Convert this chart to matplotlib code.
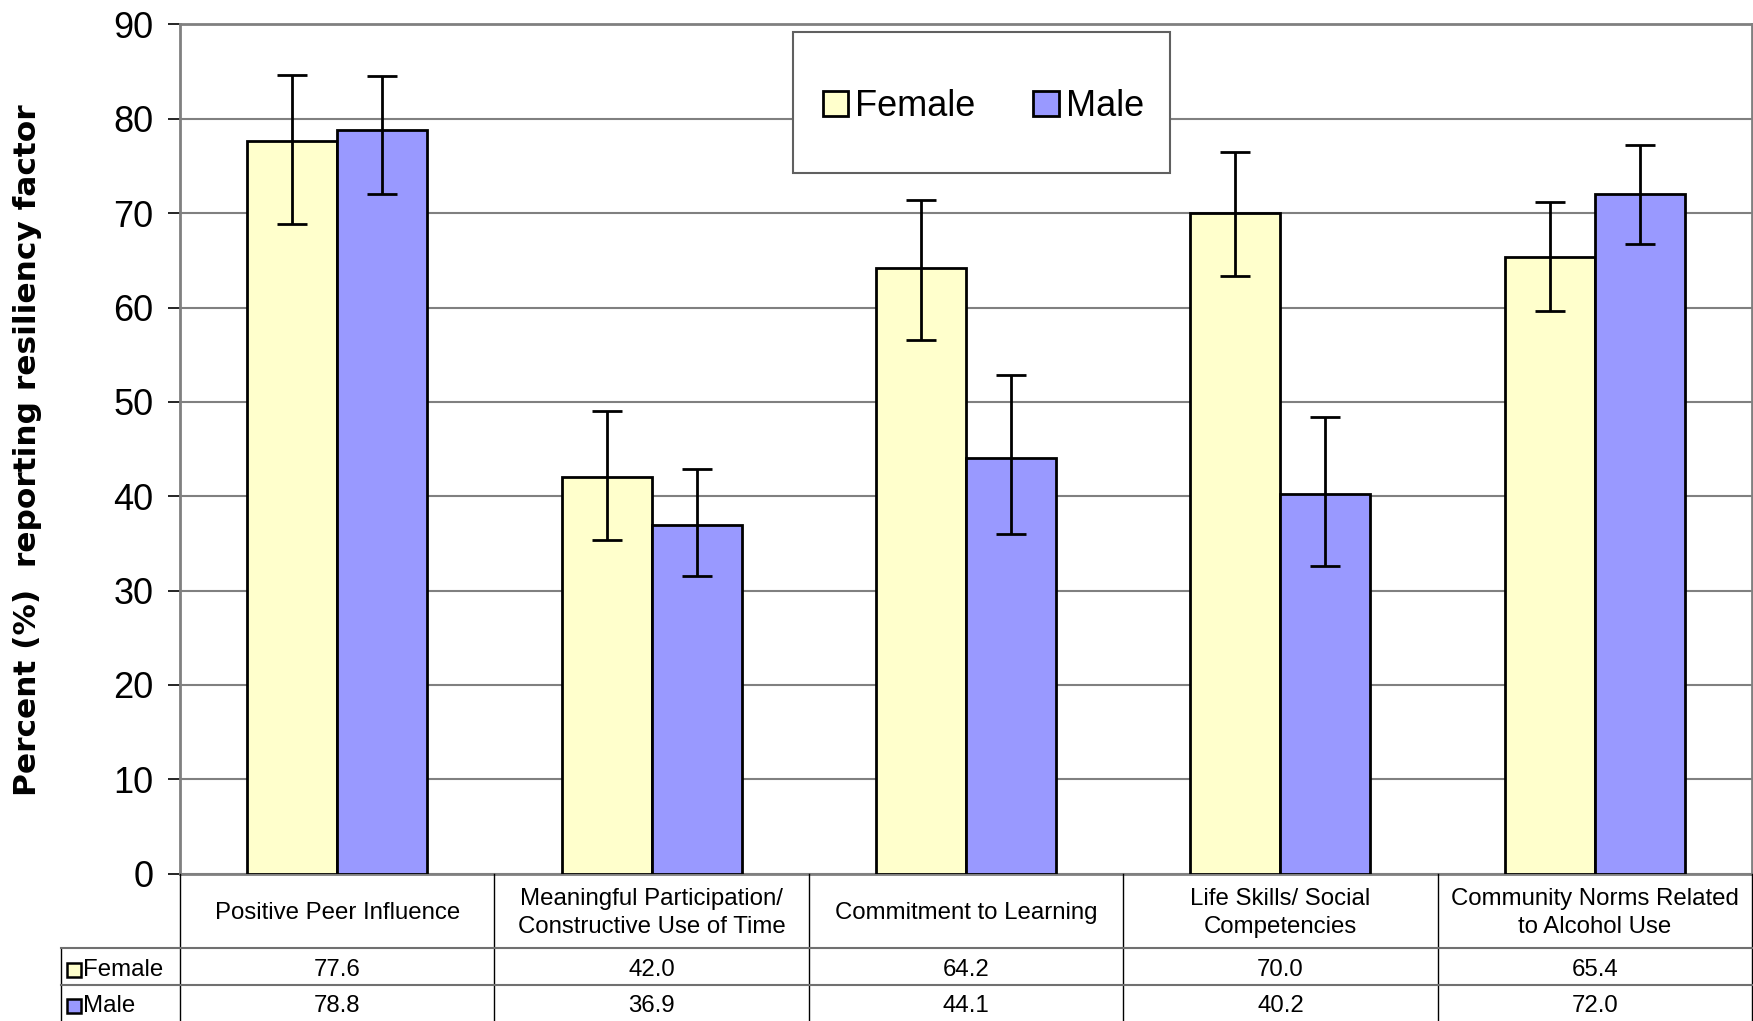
import numpy as np
import matplotlib
matplotlib.use('Agg')
import matplotlib.pyplot as plt
from matplotlib.patches import Rectangle
from matplotlib.lines import Line2D
import matplotlib.transforms as mtransforms

plt.rcParams['font.family'] = ['Liberation Sans', 'DejaVu Sans']

# data
categories = ['Positive Peer Influence',
              'Meaningful Participation/\nConstructive Use of Time',
              'Commitment to Learning',
              'Life Skills/ Social\nCompetencies',
              'Community Norms Related\nto Alcohol Use']
series = ['Female', 'Male']
female = [77.6, 42.0, 64.2, 70.0, 65.4]
male = [78.8, 36.9, 44.1, 40.2, 72.0]
# error bar ends (upper / lower)
female_hi = [84.6, 49.0, 71.4, 76.5, 71.2]
female_lo = [68.9, 35.4, 56.6, 63.3, 59.6]
male_hi = [84.5, 42.9, 52.8, 48.4, 77.2]
male_lo = [72.0, 31.5, 36.0, 32.6, 66.7]
yticks = list(range(0, 100, 10))

colors = {'Female': '#FFFFCC', 'Male': '#9999FF'}
W, H = 1753, 1021


def fy(px):
    # pixel row (from top) -> figure fraction
    return 1 - px / H


fig = plt.figure(figsize=(W / 100, H / 100), dpi=100)
ax = fig.add_axes([180 / W, 147.3 / H, 1572 / W, 849.3 / H])

x = np.arange(len(categories))
bw = 0.286
vals = {'Female': female, 'Male': male}
his = {'Female': female_hi, 'Male': male_hi}
los = {'Female': female_lo, 'Male': male_lo}
for k, s in enumerate(series):
    v = np.array(vals[s])
    err = [v - np.array(los[s]), np.array(his[s]) - v]
    ax.bar(x + (k - 0.5) * bw, v, bw, color=colors[s], edgecolor='black',
           linewidth=2, yerr=err, zorder=3, label=s,
           error_kw=dict(ecolor='black', elinewidth=2, capsize=11, capthick=2, zorder=4))

ax.set_xlim(-0.5, len(categories) - 0.5)
ax.set_ylim(0, 90)
ax.set_yticks(yticks)
ax.set_xticks([])
ax.yaxis.grid(True, color='#808080', linewidth=1.5, zorder=0)
ax.set_axisbelow(True)
ax.tick_params(axis='y', labelsize=26, length=9, width=1.2, color='black', pad=10)
for sp in ax.spines.values():
    sp.set_color('#808080')
    sp.set_linewidth(2)

fig.text(28 / W, fy(450), 'Percent (%)  reporting resiliency factor', rotation=90,
         ha='center', va='center', fontsize=22.5, fontweight='bold', family='DejaVu Sans')

# legend with its own frame
ax.add_patch(Rectangle((0.3897, 0.8247), 0.2403, 0.166, transform=ax.transAxes,
                       facecolor='white', edgecolor='#606060', linewidth=1.5, zorder=5))
leg = ax.legend(loc='center', bbox_to_anchor=(0.511, 0.903), ncol=2, frameon=False,
                fontsize=26, handlelength=0.7, handleheight=0.7, handletextpad=0.2,
                columnspacing=1.6)
leg.set_zorder(6)
for h in leg.legend_handles:
    h.set_linewidth(2)

# data table under the plot: x in data units, y in figure pixels
tr = mtransforms.blended_transform_factory(ax.transData, fig.transFigure)
y_top, y_hdr, y_r1, y_bot = 874, 948, 985, 1021
row_mid = [(y_hdr + y_r1) / 2 + 3, (y_r1 + y_bot) / 2 + 3]
x0, x1 = -0.5, len(categories) - 0.5
lab_left = x0 - (180 - 61) / 1572 * (x1 - x0)

for xb in np.arange(len(categories) + 1) - 0.5:
    fig.add_artist(Line2D([xb, xb], [fy(y_top), fy(y_bot)], transform=tr,
                          color='black', linewidth=1))
fig.add_artist(Line2D([lab_left, lab_left], [fy(y_hdr), fy(y_bot)], transform=tr,
                      color='black', linewidth=1))
for yb in (y_hdr, y_r1):
    fig.add_artist(Line2D([lab_left, x1], [fy(yb), fy(yb)], transform=tr,
                          color='#707070', linewidth=1.5))

for i, cat in enumerate(categories):
    fig.text(i, fy((y_top + y_hdr) / 2 + 2), cat, transform=tr, ha='center', va='center',
             fontsize=17.3, linespacing=1.35)
    for k, s in enumerate(series):
        fig.text(i, fy(row_mid[k]), f'{vals[s][i]:.1f}', transform=tr,
                 ha='center', va='center', fontsize=17.3)

for k, s in enumerate(series):
    yc = row_mid[k]
    fig.add_artist(Rectangle((67 / W, fy(yc + 7)), 14 / W, 14 / H,
                             transform=fig.transFigure, facecolor=colors[s],
                             edgecolor='black', linewidth=1.8))
    fig.text(83 / W, fy(yc), s, ha='left', va='center', fontsize=17.3)

fig.savefig('out.png', dpi=100)
